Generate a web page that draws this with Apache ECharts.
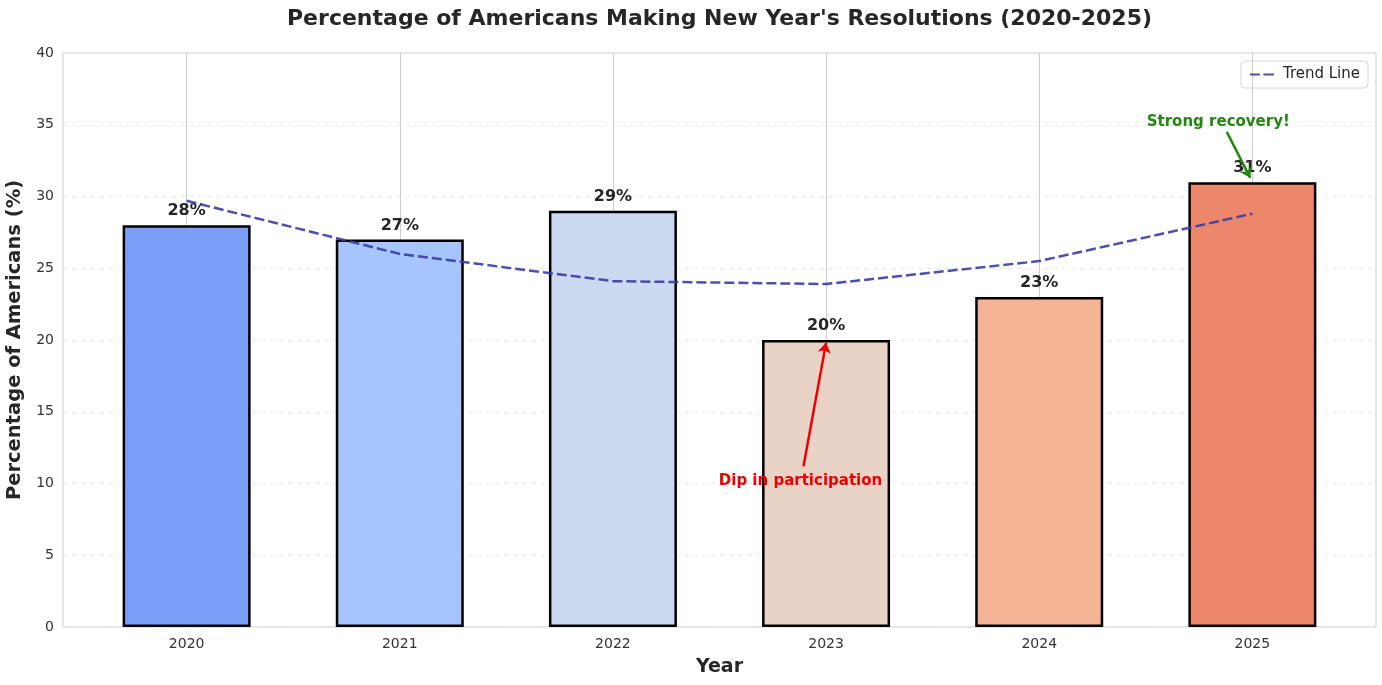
<!DOCTYPE html>
<html>
<head>
<meta charset="utf-8">
<script src="https://cdn.jsdelivr.net/npm/echarts@6/dist/echarts.min.js"></script>
<style>
  html, body { margin: 0; padding: 0; background: #fff; }
  #main { width: 1382px; height: 685px; }
</style>
</head>
<body>
<div id="main"></div>
<script>
var years = ['2020', '2021', '2022', '2023', '2024', '2025'];
var pct = [28, 27, 29, 20, 23, 31];
var trend = [29.7, 26.0, 24.1, 23.9, 25.5, 28.8];
var barColors = ['#7b9ff9', '#a6c4fe', '#cdd9f0', '#e9d3c7', '#f5b396', '#ec876b'];

// annotations: text position, arrow tail, arrow head (in data units)
var dipText = [2.88, 10.2];
var dipArrow = [[2.894, 11.2], [3, 19.8]];
var recText = [4.84, 35.2];
var recArrow = [[4.88, 34.5], [4.99, 31.3]];

var idx = years.map(function (y, i) { return i; });
var font = 'DejaVu Sans';
var titleText = "Percentage of Americans Making New Year's Resolutions (2020-2025)";

// centre the title over the plot area, as the reference does
var gridLeft = 63, gridRight = 6, chartWidth = 1382;
var ctx = document.createElement('canvas').getContext('2d');
ctx.font = 'bold 22px "' + font + '"';
var titleW = ctx.measureText(titleText).width;
var plotMid = gridLeft + (chartWidth - gridLeft - gridRight) / 2;

var myChart = echarts.init(document.getElementById('main'));

var option = {
    backgroundColor: '#fff',
    animation: false,
    textStyle: { fontFamily: font },
    title: {
        text: titleText,
        left: Math.round(plotMid - titleW / 2),
        top: 8,
        padding: 0,
        textStyle: { fontSize: 22, fontWeight: 'bold', color: '#262626', fontFamily: font }
    },
    legend: {
        data: ['Trend Line'],
        right: 14,
        top: 61,
        padding: [6, 8, 6, 8],
        borderColor: '#d6d6d6',
        borderWidth: 1,
        borderRadius: 4,
        itemWidth: 28,
        itemHeight: 2,
        itemGap: 6,
        textStyle: { fontSize: 15, color: '#262626', fontFamily: font }
    },
    grid: {
        left: gridLeft, right: gridRight, top: 53, bottom: 58,
        outerBoundsMode: 'none', containLabel: false,
        show: true, borderColor: '#cccccc', borderWidth: 1
    },
    xAxis: {
        type: 'value',
        min: -0.58,
        max: 5.58,
        name: 'Year',
        nameLocation: 'middle',
        nameGap: 31,
        nameTextStyle: { fontSize: 19, fontWeight: 'bold', color: '#262626' },
        axisLine: { show: false },
        axisTick: { show: false, customValues: idx },
        axisLabel: {
            customValues: idx,
            fontSize: 14,
            color: '#333',
            margin: 10,
            formatter: function (v) { return years[Math.round(v)]; }
        },
        splitLine: { show: true, lineStyle: { color: '#cccccc', width: 1 } }
    },
    yAxis: {
        type: 'value',
        min: 0,
        max: 40,
        interval: 5,
        name: 'Percentage of Americans (%)',
        nameLocation: 'middle',
        nameGap: 34,
        nameTextStyle: { fontSize: 19.5, fontWeight: 'bold', color: '#262626' },
        axisLine: { show: false },
        axisTick: { show: false },
        axisLabel: { fontSize: 14, color: '#333', margin: 9 },
        splitLine: { show: true, lineStyle: { color: '#ebebeb', type: [5, 4], width: 1 } }
    },
    series: [
        {
            name: 'Percentage',
            type: 'bar',
            barWidth: 128,
            data: pct.map(function (v, i) {
                return { value: [i, v], itemStyle: { color: barColors[i] } };
            }),
            itemStyle: { borderColor: '#000', borderWidth: 2.5 },
            label: {
                show: true,
                position: 'top',
                distance: 6,
                formatter: function (p) { return p.value[1] + '%'; },
                fontSize: 16,
                fontWeight: 'bold',
                color: '#262626'
            },
            z: 2
        },
        {
            name: 'Trend Line',
            type: 'line',
            data: trend.map(function (v, i) { return [i, v]; }),
            symbol: 'none',
            lineStyle: { color: '#3b3ba6', width: 2.5, type: [10, 4], opacity: 0.9 },
            itemStyle: { color: '#3b3ba6' },
            z: 3,
            markLine: {
                silent: true,
                symbol: ['none', 'arrow'],
                symbolSize: 10,
                label: { show: false },
                data: [
                    [{ coord: dipArrow[0], lineStyle: { color: '#ee0000', width: 2.5, type: 'solid' } },
                     { coord: dipArrow[1] }],
                    [{ coord: recArrow[0], lineStyle: { color: '#228811', width: 2.5, type: 'solid' } },
                     { coord: recArrow[1] }]
                ]
            },
            markPoint: {
                silent: true,
                symbolSize: 0,
                data: [
                    { coord: dipText, value: 'Dip in participation',
                      label: { show: true, formatter: 'Dip in participation', color: '#ee0000', fontSize: 15, fontWeight: 'bold', position: 'inside' } },
                    { coord: recText, value: 'Strong recovery!',
                      label: { show: true, formatter: 'Strong recovery!', color: '#228811', fontSize: 15, fontWeight: 'bold', position: 'inside' } }
                ]
            }
        }
    ]
};

myChart.setOption(option);
</script>
</body>
</html>
